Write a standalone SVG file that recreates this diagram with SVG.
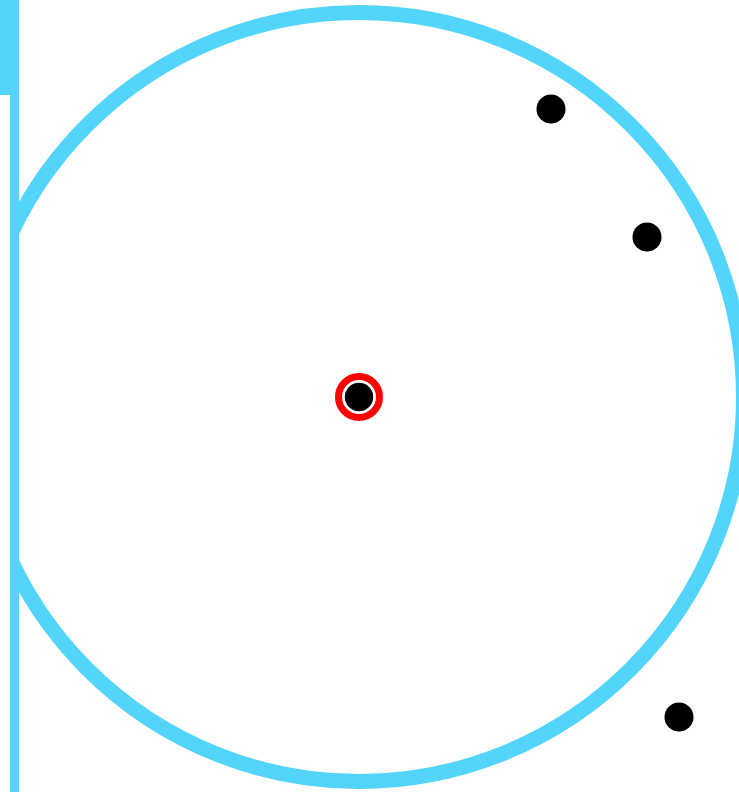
<svg xmlns="http://www.w3.org/2000/svg" width="739" height="792" viewBox="0 0 739 792">
<style>
.blue{fill:#53D4FB}
.dot{fill:#000}
</style>
<defs>
<clipPath id="clipR"><rect x="10" y="0" width="729" height="792"/></clipPath>
</defs>
<rect width="739" height="792" fill="#fff"/>
<g id="bar">
<rect class="blue" x="0" y="0" width="19" height="95"/>
<rect class="blue" x="10" y="95" width="9" height="697"/>
</g>
<g id="ring" clip-path="url(#clipR)">
<circle cx="359" cy="397" r="384.5" fill="none" stroke="#53D4FB" stroke-width="15"/>
</g>
<g id="center">
<circle cx="359" cy="397" r="20.5" fill="none" stroke="#FF0000" stroke-width="7"/>
<circle cx="359" cy="397" r="15" fill="#000" stroke="#fff" stroke-width="1.5"/>
</g>
<g id="dot1"><circle class="dot" cx="551" cy="109" r="14.5"/></g>
<g id="dot2"><circle class="dot" cx="647" cy="237" r="14.5"/></g>
<g id="dot3"><circle class="dot" cx="679" cy="717" r="14.5"/></g>
</svg>
